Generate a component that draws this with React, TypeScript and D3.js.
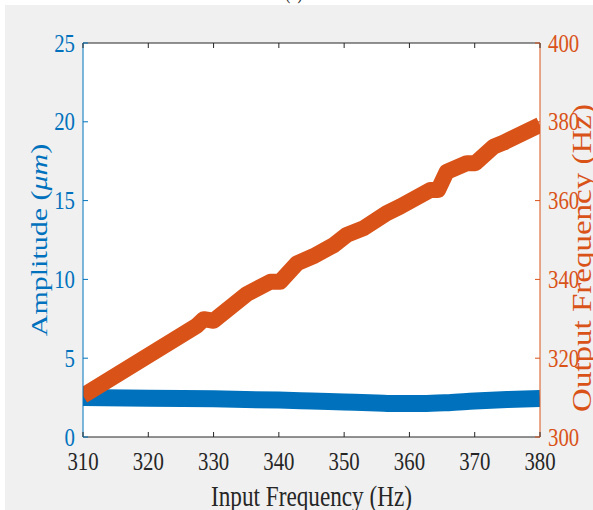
import React, { useEffect, useRef } from 'react';
import * as d3 from 'd3';

// amplitude series (blue, left axis)
const ampHz = [310, 320, 330, 340, 345, 350, 355, 358, 362, 366, 370, 375, 380];
const amplitude = [2.5, 2.46, 2.42, 2.34, 2.28, 2.22, 2.16, 2.12, 2.12, 2.18, 2.28, 2.38, 2.45];

// output frequency series (orange, right axis)
const outHz = [310, 327.4, 328.5, 330, 335.1, 338.7, 340.2, 342.8, 345.3, 348.4, 350.4, 353, 356.5,
  358.6, 363.2, 364.4, 365.7, 368.8, 370.1, 372.9, 374.4, 380];
const outFreq = [310.5, 328.2, 329.9, 329.5, 336.3, 339.4, 339.4, 344.1, 345.9, 348.7, 351.3, 353, 356.8,
  358.5, 362.7, 362.7, 367.3, 369.5, 369.5, 373.7, 374.7, 379.2];

const xTicks = [310, 320, 330, 340, 350, 360, 370, 380];
const leftTicks = [0, 5, 10, 15, 20, 25];
const rightTicks = [300, 320, 340, 360, 380, 400];

const BLUE = '#0072BD';
const ORANGE = '#D95319';
const DARK = '#262626';
const SX = 0.8; // the picture is squeezed horizontally

export default function App() {
  const ref = useRef<SVGSVGElement>(null);

  useEffect(() => {
    const svg = d3.select(ref.current);
    svg.selectAll('*').remove();

    const left = 83, right = 540, top = 43, bottom = 437;
    const x = d3.scaleLinear().domain([310, 380]).range([left, right]);
    const yL = d3.scaleLinear().domain([0, 25]).range([bottom, top]);
    const yR = d3.scaleLinear().domain([300, 400]).range([bottom, top]);
    const font = '"Liberation Serif", "Times New Roman", serif';

    svg.append('rect').attr('x', 5).attr('y', 5).attr('width', 588).attr('height', 505).attr('fill', '#f0f0f0');
    svg.append('text')
      .attr('transform', `translate(294,-1) scale(${SX},1)`)
      .attr('text-anchor', 'middle').attr('font-family', font).attr('font-size', 20)
      .attr('fill', DARK).text('(a)');

    svg.append('rect').attr('x', left).attr('y', top).attr('width', right - left).attr('height', bottom - top).attr('fill', '#fff');

    svg.append('clipPath').attr('id', 'plotClip')
      .append('rect').attr('x', left).attr('y', top).attr('width', right - left).attr('height', bottom - top);

    const g = svg.append('g').attr('clip-path', 'url(#plotClip)');

    const ampLine = d3.line<number>().x((d, i) => x(ampHz[i])).y(d => yL(d)).curve(d3.curveMonotoneX);
    g.append('path').attr('d', ampLine(amplitude)).attr('fill', 'none')
      .attr('stroke', BLUE).attr('stroke-width', 17);

    const outLine = d3.line<number>().x((d, i) => x(outHz[i])).y(d => yR(d));
    g.append('path').attr('d', outLine(outFreq)).attr('fill', 'none')
      .attr('stroke', ORANGE).attr('stroke-width', 16).attr('stroke-linejoin', 'round');

    // box
    svg.append('line').attr('x1', left).attr('x2', right).attr('y1', top).attr('y2', top).attr('stroke', DARK);
    svg.append('line').attr('x1', left).attr('x2', right).attr('y1', bottom).attr('y2', bottom).attr('stroke', DARK);
    svg.append('line').attr('x1', left).attr('x2', left).attr('y1', top).attr('y2', bottom).attr('stroke', BLUE);
    svg.append('line').attr('x1', right).attr('x2', right).attr('y1', top).attr('y2', bottom).attr('stroke', ORANGE);

    // x ticks
    xTicks.forEach(t => {
      svg.append('line').attr('x1', x(t)).attr('x2', x(t)).attr('y1', bottom).attr('y2', bottom - 5).attr('stroke', DARK);
      svg.append('line').attr('x1', x(t)).attr('x2', x(t)).attr('y1', top).attr('y2', top + 5).attr('stroke', DARK);
      svg.append('text')
        .attr('transform', `translate(${x(t)},470) scale(${SX},1)`)
        .attr('text-anchor', 'middle').attr('font-family', font).attr('font-size', 26)
        .attr('fill', DARK).text(t);
    });

    leftTicks.forEach(t => {
      svg.append('line').attr('x1', left).attr('x2', left + 5).attr('y1', yL(t)).attr('y2', yL(t)).attr('stroke', BLUE);
      svg.append('text')
        .attr('transform', `translate(${left - 8},${yL(t) + 8.6}) scale(${SX},1)`)
        .attr('text-anchor', 'end').attr('font-family', font).attr('font-size', 26)
        .attr('fill', BLUE).text(t);
    });

    rightTicks.forEach(t => {
      svg.append('line').attr('x1', right).attr('x2', right - 5).attr('y1', yR(t)).attr('y2', yR(t)).attr('stroke', ORANGE);
      svg.append('text')
        .attr('transform', `translate(${right + 8},${yR(t) + 8.6}) scale(${SX},1)`)
        .attr('text-anchor', 'start').attr('font-family', font).attr('font-size', 26)
        .attr('fill', ORANGE).text(t);
    });

    svg.append('text')
      .attr('transform', `translate(${(left + right) / 2},506) scale(${SX},1)`)
      .attr('text-anchor', 'middle').attr('font-family', font).attr('font-size', 29)
      .attr('fill', DARK).text('Input Frequency (Hz)');

    const yl = svg.append('text')
      .attr('transform', `translate(46.5,${(top + bottom) / 2}) scale(${SX},1) rotate(-90)`)
      .attr('text-anchor', 'middle').attr('font-family', font).attr('font-size', 30)
      .attr('fill', BLUE);
    yl.append('tspan').text('Amplitude (');
    yl.append('tspan').attr('font-style', 'italic').text('μm');
    yl.append('tspan').text(')');

    svg.append('text')
      .attr('transform', `translate(590.5,258) scale(${SX},1) rotate(-90)`)
      .attr('text-anchor', 'middle').attr('font-family', font).attr('font-size', 33)
      .attr('fill', ORANGE).text('Output Frequency (Hz)');
  }, []);

  return (
    <svg ref={ref} width={593} height={510}
      style={{ position: 'absolute', left: 0, top: 0, background: '#fff' }} />
  );
}
